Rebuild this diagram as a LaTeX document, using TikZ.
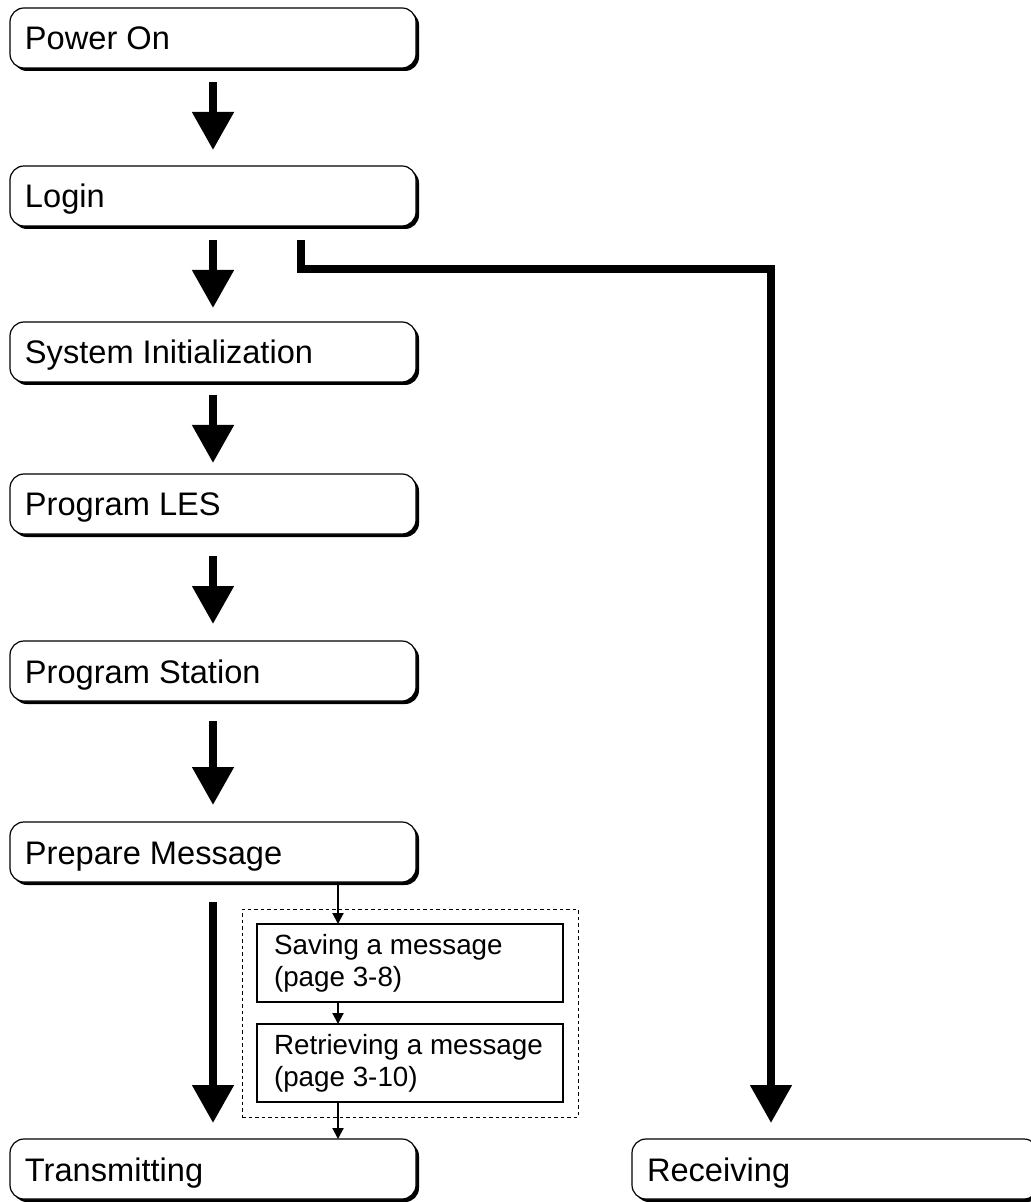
\documentclass[tikz,border=0pt]{standalone}
\usepackage{fontspec}
\setmainfont{Liberation Sans}
\usetikzlibrary{arrows.meta, positioning, shadows, fit}

\begin{document}
\begin{tikzpicture}[
    x=0.5pt, y=-0.5pt,
    stepbox/.style={draw, line width=0.6pt, rounded corners=7pt, fill=white,
        minimum height=30pt, text width=188pt, inner xsep=7.5pt, outer sep=0pt,
        align=flush left, text height=12.5pt, text depth=0.5pt,
        font=\fontsize{16.3}{19}\selectfont,
        drop shadow={shadow xshift=1.5pt, shadow yshift=-1.5pt, fill=black, opacity=1}},
    subbox/.style={draw, line width=0.6pt, minimum height=39pt, text width=136pt,
        inner xsep=8.5pt, outer sep=0pt, align=flush left,
        font=\fontsize{13.9}{16}\selectfont},
    bigarrow/.style={line width=4pt, -{Triangle[width=20pt, length=19pt]}},
    smallarrow/.style={line width=1pt, -{Triangle[width=5.5pt, length=5.5pt]}},
    node distance=48pt
]
\useasboundingbox (0,0) rectangle (1031,1202);

\node[stepbox, anchor=north west] (pwr) at (10,8) {Power On};
\node[stepbox] (login) [below=49pt of pwr] {Login};
\node[stepbox] (init) [below=48pt of login] {System Initialization};
\node[stepbox] (les) [below=46pt of init] {Program LES};
\node[stepbox] (stn) [below=53.5pt of les] {Program Station};
\node[stepbox] (prep) [below=60.5pt of stn] {Prepare Message};
\node[stepbox] (tx) [below=128.5pt of prep] {Transmitting};
\node[stepbox, anchor=north west] (rx) at (632,1139) {Receiving};

\node[subbox, anchor=north west] (save) at (257,924) {Saving a message\\(page 3-8)};
\node[subbox] (retr) [below=11pt of save] {Retrieving a message\\(page 3-10)};
\node[draw, line width=0.5pt, dash pattern=on 1.75pt off 1.5pt,
    fit=(save)(retr), inner sep=7.5pt] (grp) {};

\draw[bigarrow] ([yshift=-7pt]pwr.south) -- ([yshift=8pt]login.north);
\draw[bigarrow] ([yshift=-7pt]login.south) -- ([yshift=7pt]init.north);
\draw[bigarrow] ([yshift=-6.5pt]init.south) -- ([yshift=5.5pt]les.north);
\draw[bigarrow] ([yshift=-11pt]les.south) -- ([yshift=8.5pt]stn.north);
\draw[bigarrow] ([yshift=-10pt]stn.south) -- ([yshift=8.5pt]prep.north);
\draw[bigarrow] ([yshift=-10pt]prep.south) -- ([yshift=8pt]tx.north);

\draw[bigarrow] ([xshift=44pt, yshift=-7pt]login.south) -- ++(0,29)
    -| ([xshift=69.5pt, yshift=8pt]rx.north west);

\coordinate (tap) at ([xshift=40.5pt]save.north west);
\draw[smallarrow] (tap |- prep.south) -- (tap);
\draw[smallarrow] (tap |- save.south) -- (tap |- retr.north);
\draw[smallarrow] (tap |- retr.south) -- (tap |- tx.north);

\end{tikzpicture}
\end{document}
